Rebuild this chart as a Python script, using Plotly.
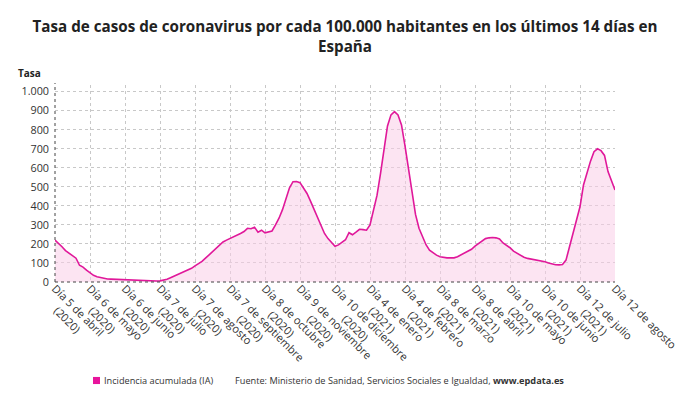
import plotly.graph_objects as go

tick_dates = [
    "Día 5 de abril", "Día 6 de mayo", "Día 6 de junio", "Día 7 de julio",
    "Día 7 de agosto", "Día 7 de septiembre", "Día 8 de octubre", "Día 9 de noviembre",
    "Día 10 de diciembre", "Día 4 de enero", "Día 4 de febrero", "Día 8 de marzo",
    "Día 8 de abril", "Día 10 de mayo", "Día 10 de junio", "Día 12 de julio",
    "Día 12 de agosto",
]
tick_years = [
    "(2020)", "(2020)", "(2020)", "(2020)", "(2020)", "(2020)", "(2020)", "(2020)",
    "(2020)", "(2021)", "(2021)", "(2021)", "(2021)", "(2021)", "(2021)", "(2021)",
    "",
]
points_per_tick = 10

tasa = [
    220, 205, 185, 165, 150, 138, 125, 88, 78, 62,
    47, 35, 28, 23, 19, 16, 15, 14, 14, 13,
    12, 11, 10, 9, 8, 7, 6, 5, 5, 5,
    6, 9, 14, 22, 30, 38, 46, 54, 62, 72,
    85, 95, 108, 125, 142, 160, 178, 195, 210, 220,
    228, 238, 245, 255, 265, 282, 280, 288, 262, 272,
    258, 262, 268, 300, 335, 380, 440, 495, 527, 528,
    522, 495, 465, 425, 380, 335, 290, 255, 228, 205,
    188, 195, 210, 222, 259, 248, 262, 277, 275, 272,
    300, 370, 455, 570, 700, 820, 878, 895, 878, 825,
    715, 590, 470, 355, 282, 235, 196, 167, 152, 141,
    133, 129, 127, 127, 127, 133, 143, 152, 160, 172,
    188, 203, 218, 228, 232, 234, 232, 226, 205, 192,
    180, 162, 150, 140, 130, 124, 120, 117, 115, 112,
    106, 100, 95, 91, 90, 92, 115, 185, 250, 310,
    395, 510, 580, 635, 685, 700, 690, 665, 580, 530,
    484,
]
series_name = "Incidencia acumulada (IA)"
source_text = "Fuente: Ministerio de Sanidad, Servicios Sociales e Igualdad, <b>www.epdata.es</b>"


def centered_label(line1, line2):
    # centre the second line under the first (labels are centre-aligned)
    if not line2:
        return line1
    pad = max(0, round((len(line1) - len(line2)) * 0.42 / 0.26 / 2))
    return line1 + "<br>" + "\u00a0" * pad + line2


tick_labels = [centered_label(a, b) for a, b in zip(tick_dates, tick_years)]
x_idx = list(range(len(tasa)))
tick_vals = [i * points_per_tick for i in range(len(tick_labels))]

LINE = "#e0189a"
FILL = "rgba(250, 205, 232, 0.55)"
FONT = "Open Sans"

fig = go.Figure()
fig.add_trace(go.Scatter(
    x=x_idx, y=tasa, mode="lines", fill="tozeroy",
    line=dict(color=LINE, width=1.6), fillcolor=FILL,
    showlegend=False, hoverinfo="y",
))

fig.update_layout(
    width=690, height=405,
    margin=dict(l=47, r=83, t=77, b=131),
    paper_bgcolor="white", plot_bgcolor="white",
    font=dict(family=FONT, size=11, color="#333"),
    separators=",.",
    showlegend=False,
    title=dict(
        text="<b>Tasa de casos de coronavirus por cada 100.000 habitantes en los últimos 14 días en<br>España</b>",
        x=0.4884, xanchor="center", y=0.94, yanchor="top",
        font=dict(family=FONT, size=15.2, color="#222"),
    ),
    xaxis=dict(
        range=[0, len(tasa) - 1], tickmode="array", tickvals=tick_vals, ticktext=tick_labels,
        tickangle=45, showgrid=True, gridcolor="#c8c8c8", griddash="dot", gridwidth=1,
        zeroline=False, showline=False, ticks="", automargin=False,
        ticklabelstandoff=-3,
        tickfont=dict(size=11, color="#333"),
    ),
    yaxis=dict(
        range=[0, 1035], tickvals=[0, 100, 200, 300, 400, 500, 600, 700, 800, 900, 1000],
        tickformat=",d", showgrid=True, gridcolor="#c8c8c8", griddash="dot", gridwidth=1,
        zeroline=False, showline=False, ticks="", automargin=False,
        ticklabelstandoff=5,
        tickfont=dict(size=10.8, color="#333"),
    ),
)

fig.add_shape(type="line", xref="paper", yref="paper", x0=0, x1=0, y0=0, y1=1.01,
              line=dict(color="#444", width=1, dash="dot"))
fig.add_shape(type="line", xref="paper", yref="paper", x0=0, x1=1, y0=0, y1=0,
              line=dict(color="#444", width=1.2, dash="dot"))

# legend swatch + text
fig.add_shape(type="rect", xref="paper", yref="paper",
              x0=0.0679, x1=0.0804, y0=-0.482, y1=-0.518,
              line=dict(width=0), fillcolor="#e8149c")
fig.add_annotation(
    text=series_name, xref="paper", yref="paper", x=0.084, y=-0.5,
    xanchor="left", yanchor="middle", showarrow=False,
    font=dict(family=FONT, size=9.2, color="#333"),
)
fig.add_annotation(
    text=source_text,
    xref="paper", yref="paper", x=0.318, y=-0.5, xanchor="left", yanchor="middle",
    showarrow=False, font=dict(family=FONT, size=9.2, color="#333"),
)

fig.add_annotation(
    text="<b>Tasa</b>", xref="paper", yref="paper", x=-0.069, y=1.061,
    xanchor="left", yanchor="middle", showarrow=False,
    font=dict(family=FONT, size=10, color="#222"),
)

fig.write_html("out.html")
